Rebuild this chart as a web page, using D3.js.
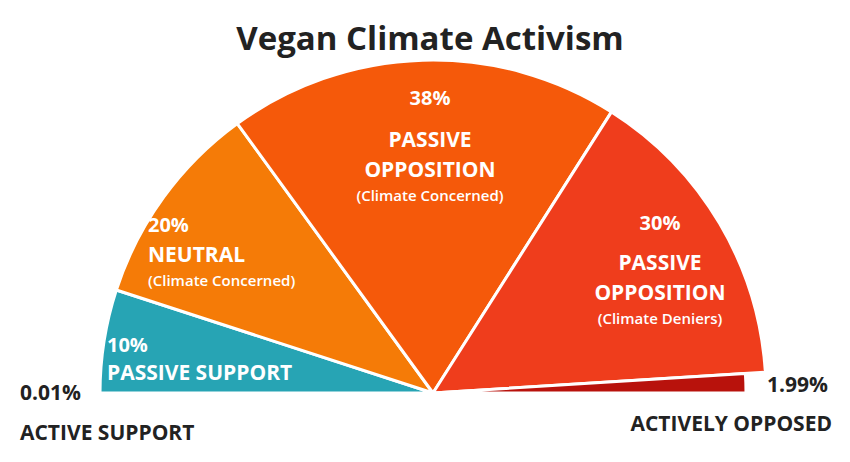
<!DOCTYPE html>
<html><head><meta charset="utf-8">
<script src="https://cdn.jsdelivr.net/npm/d3@7"></script>
<style>body{margin:0;background:#fff}svg{font-family:"Open Sans",sans-serif}</style>
</head><body><svg width="850" height="462"></svg>
<script>
const categories=["ACTIVE SUPPORT","PASSIVE SUPPORT","NEUTRAL","PASSIVE OPPOSITION","PASSIVE OPPOSITION","ACTIVELY OPPOSED"];
const subtitles=["","","(Climate Concerned)","(Climate Concerned)","(Climate Deniers)",""];
const values=[0.01,10,20,38,30,1.99];
const labels=["0.01%","10%","20%","38%","30%","1.99%"];
const colors=["#2aa3b3","#27a4b4","#f57b07","#f5590a","#ef3d1c","#b8120c"];
const svg=d3.select("svg");
const cx=433,cy=393,R=333;
svg.append("text").attr("x",430).attr("y",50).attr("text-anchor","middle").attr("font-size",33).attr("font-weight",700).attr("fill","#222").text("Vegan Climate Activism");
const pie=d3.pie().sort(null).value(d=>d).startAngle(-Math.PI/2).endAngle(Math.PI/2);
const arcs=pie(values);
const g=svg.append("g").attr("transform",`translate(${cx},${cy})`);
const arc=d3.arc().innerRadius(0).outerRadius((d,i)=>i==5?R-20:R);
g.selectAll("path").data(arcs).join("path").attr("d",(d,i)=>arc(d,i)).attr("fill",(d,i)=>colors[i]).attr("stroke","#fff").attr("stroke-width",(d,i)=>i==0?0.5:3).attr("stroke-linejoin","round");
const W="#fff";
function t(x,y,s,size,col,anchor,w){svg.append("text").attr("x",x).attr("y",y).attr("font-size",size).attr("font-weight",w||700).attr("fill",col).attr("text-anchor",anchor||"start").text(s);}
// Left labels
t(20,400,labels[0],21,"#222");
t(20,440,categories[0],21,"#222");
t(107,352,labels[1],20,W);
t(107,380,categories[1],21,W);
t(148,232,labels[2],20,W);
t(148,262,categories[2],21,W);
t(148,286,subtitles[2],15,W,"start",600);
t(430,105,labels[3],20,W,"middle");
t(430,147,categories[3].split(" ")[0],21,W,"middle");
t(430,177,categories[3].split(" ")[1],21,W,"middle");
t(430,201,subtitles[3],15,W,"middle",600);
t(660,230,labels[4],20,W,"middle");
t(660,270,categories[4].split(" ")[0],21,W,"middle");
t(660,300,categories[4].split(" ")[1],21,W,"middle");
t(660,324,subtitles[4],15,W,"middle",600);
t(767,392,labels[5],21,"#222");
t(832,431,categories[5],21,"#222","end");
</script></body></html>
